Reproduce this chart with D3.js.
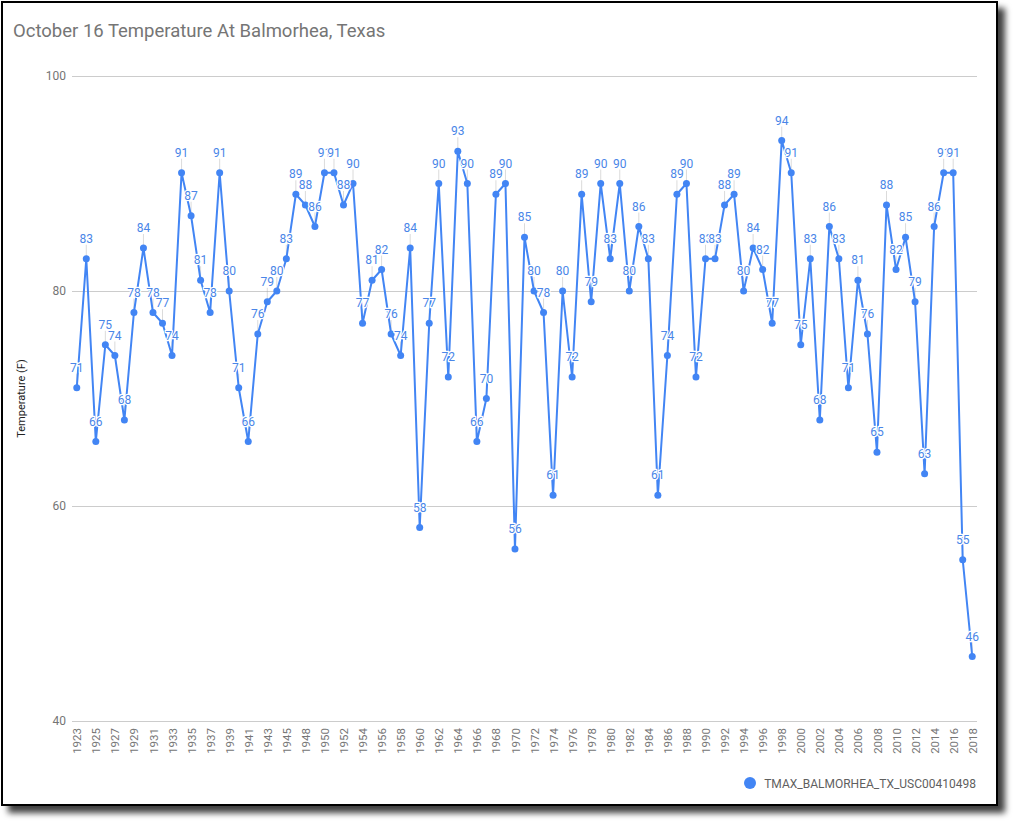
<!DOCTYPE html>
<html>
<head>
<meta charset="utf-8">
<script src="https://cdn.jsdelivr.net/npm/d3@7"></script>
<style>
  body { margin: 0; background: #fff; }
  text { font-family: Roboto, "Noto Sans", sans-serif; }
</style>
</head>
<body>
<svg id="chart" width="1021" height="828"></svg>
<script>
// years on the x axis (1947 is not in the data)
let years = [1923, 1924, 1925, 1926, 1927, 1928, 1929, 1930, 1931, 1932,
  1933, 1934, 1935, 1936, 1937, 1938, 1939, 1940, 1941, 1942,
  1943, 1944, 1945, 1946, 1948, 1949, 1950, 1951, 1952, 1953,
  1954, 1955, 1956, 1957, 1958, 1959, 1960, 1961, 1962, 1963,
  1964, 1965, 1966, 1967, 1968, 1969, 1970, 1971, 1972, 1973,
  1974, 1975, 1976, 1977, 1978, 1979, 1980, 1981, 1982, 1983,
  1984, 1985, 1986, 1987, 1988, 1989, 1990, 1991, 1992, 1993,
  1994, 1995, 1996, 1997, 1998, 1999, 2000, 2001, 2002, 2003,
  2004, 2005, 2006, 2007, 2008, 2009, 2010, 2011, 2012, 2013,
  2014, 2015, 2016, 2017, 2018];

// TMAX on October 16 (F)
let tmax = [71, 83, 66, 75, 74, 68, 78, 84, 78, 77,
  74, 91, 87, 81, 78, 91, 80, 71, 66, 76,
  79, 80, 83, 89, 88, 86, 91, 91, 88, 90,
  77, 81, 82, 76, 74, 84, 58, 77, 90, 72,
  93, 90, 66, 70, 89, 90, 56, 85, 80, 78,
  61, 80, 72, 89, 79, 90, 83, 90, 80, 86,
  83, 61, 74, 89, 90, 72, 83, 83, 88, 89,
  80, 84, 82, 77, 94, 91, 75, 83, 68, 86,
  83, 71, 81, 76, 65, 88, 82, 85, 79, 63,
  86, 91, 91, 55, 46];

let yTicks = [40, 60, 80, 100];
let seriesName = "TMAX_BALMORHEA_TX_USC00410498";
let chartTitle = "October 16 Temperature At Balmorhea, Texas";

let blue = "#4285f4";
let labelBlue = "#4a86e8";

let svg = d3.select("#chart");

// card with a drop shadow, like the screenshot
let defs = svg.append("defs");
let filter = defs.append("filter").attr("id", "shadow")
  .attr("x", "-5%").attr("y", "-5%").attr("width", "115%").attr("height", "115%");
filter.append("feDropShadow")
  .attr("dx", 7).attr("dy", 7).attr("stdDeviation", 3)
  .attr("flood-color", "#000").attr("flood-opacity", 0.75);

svg.append("rect")
  .attr("x", 2).attr("y", 2).attr("width", 995).attr("height", 803)
  .attr("fill", "#fff").attr("stroke", "#000").attr("stroke-width", 2)
  .attr("filter", "url(#shadow)");

let plot = {left: 72, right: 977, top: 76, bottom: 721};

let xScale = d3.scalePoint()
  .domain(years)
  .range([plot.left, plot.right])
  .padding(0.5);

let yScale = d3.scaleLinear()
  .domain([40, 100])
  .range([plot.bottom, plot.top]);

// title
svg.append("text")
  .attr("x", 13).attr("y", 37)
  .attr("font-size", 18.5)
  .attr("fill", "#757575")
  .text(chartTitle);

// gridlines + y labels
let yAxis = d3.axisLeft(yScale)
  .tickValues(yTicks)
  .tickSize(-(plot.right - plot.left))
  .tickPadding(6)
  .tickFormat(d3.format("d"));

let yG = svg.append("g")
  .attr("transform", "translate(" + plot.left + ",0)")
  .call(yAxis);
yG.select(".domain").remove();
yG.selectAll("line").attr("stroke", "#cccccc");
yG.selectAll("text")
  .attr("font-size", 12)
  .attr("fill", "#757575")
  .style("font-family", "Roboto, sans-serif");

// y axis title
svg.append("text")
  .attr("transform", "translate(25," + ((plot.top + plot.bottom) / 2) + ") rotate(-90)")
  .attr("text-anchor", "middle")
  .attr("font-size", 11)
  .attr("fill", "#222")
  .text("Temperature (F)");

// x labels, every other year, rotated
let xAxis = d3.axisBottom(xScale)
  .tickValues(years.filter((d, i) => i % 2 === 0))
  .tickSize(0)
  .tickPadding(0);

let xG = svg.append("g")
  .attr("transform", "translate(0," + plot.bottom + ")")
  .call(xAxis);
xG.select(".domain").remove();
xG.selectAll("text")
  .attr("transform", "rotate(-90)")
  .attr("x", -7)
  .attr("y", 0)
  .attr("dy", "0.35em")
  .style("text-anchor", "end")
  .style("font-family", "Roboto, sans-serif")
  .attr("font-size", 11.5)
  .attr("fill", "#757575");

let data = years.map((y, i) => ({year: y, value: tmax[i]}));

// faint stems under the annotations
svg.append("g").selectAll("line")
  .data(data)
  .enter().append("line")
  .attr("x1", d => xScale(d.year))
  .attr("x2", d => xScale(d.year))
  .attr("y1", d => yScale(d.value))
  .attr("y2", d => yScale(d.value) - 14)
  .attr("stroke", "#999")
  .attr("stroke-opacity", 0.35)
  .attr("stroke-width", 1);

let line = d3.line()
  .x(d => xScale(d.year))
  .y(d => yScale(d.value));

svg.append("path")
  .datum(data)
  .attr("d", line)
  .attr("fill", "none")
  .attr("stroke", blue)
  .attr("stroke-width", 2)
  .attr("stroke-linejoin", "round");

svg.append("g").selectAll("circle")
  .data(data)
  .enter().append("circle")
  .attr("cx", d => xScale(d.year))
  .attr("cy", d => yScale(d.value))
  .attr("r", 3.5)
  .attr("fill", blue);

// value labels, white aura like google annotations
svg.append("g").selectAll("text")
  .data(data)
  .enter().append("text")
  .attr("x", d => xScale(d.year))
  .attr("y", d => yScale(d.value) - 16)
  .attr("text-anchor", "middle")
  .attr("font-size", 12)
  .attr("fill", labelBlue)
  .attr("stroke", "#fff")
  .attr("stroke-width", 2.5)
  .attr("stroke-linejoin", "round")
  .style("paint-order", "stroke")
  .text(d => d.value);

// legend
let legend = svg.append("g");
legend.append("circle")
  .attr("cx", 750).attr("cy", 783).attr("r", 6)
  .attr("fill", blue);
legend.append("text")
  .attr("x", 976).attr("y", 787.5)
  .attr("text-anchor", "end")
  .attr("font-size", 12)
  .attr("fill", "#5f5f5f")
  .text(seriesName);
</script>
</body>
</html>
